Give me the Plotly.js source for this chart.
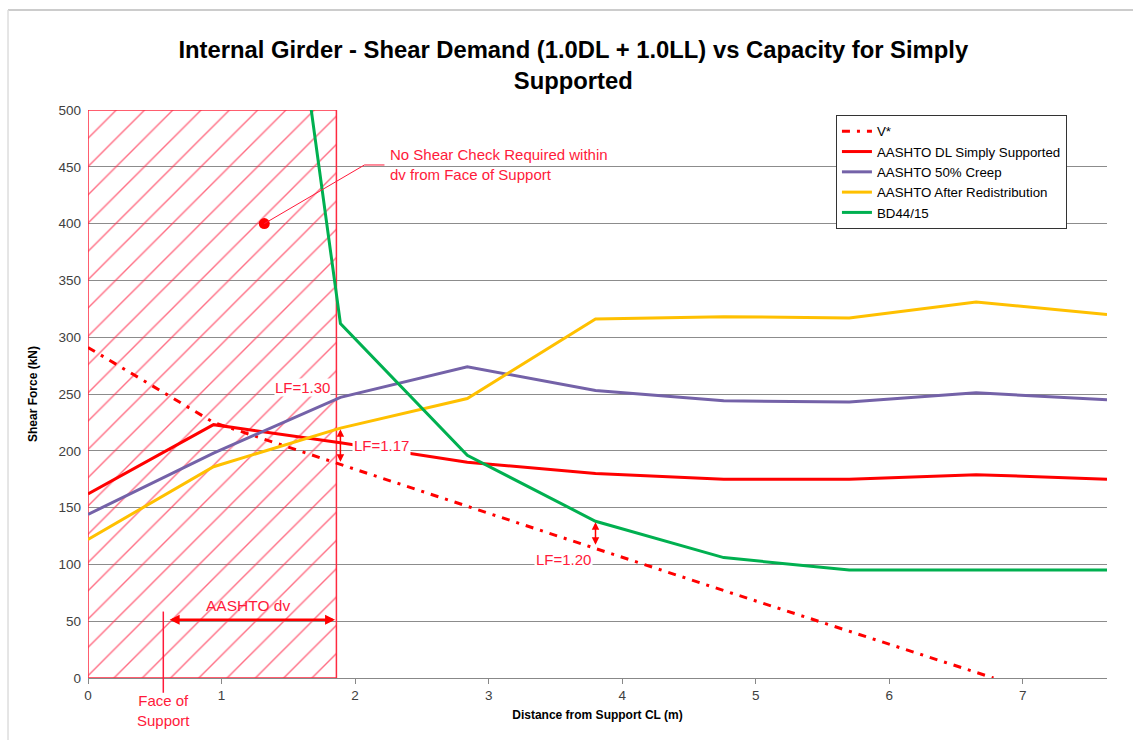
<!DOCTYPE html>
<html>
<head>
<meta charset="utf-8">
<script src="https://cdn.plot.ly/plotly-3.0.1.min.js"></script>
<style>html,body{margin:0;padding:0;background:#fff;}#chart{width:1133px;height:740px;}</style>
</head>
<body>
<div id="chart"></div>
<script>
// ---- data ----
var distance = [0, 0.94, 1.89, 2.84, 3.8, 4.76, 5.7, 6.65, 7.63];
var aashtoDL = [162, 223, 207, 190, 180, 175, 175, 179, 175];
var aashtoCreep = [144, 198, 247, 274, 253, 244, 243, 251, 245];
var aashtoRedist = [122, 186, 220, 246, 316, 318, 317, 331, 320];
var bd4415 = [null, 1130, 312, 196, 138, 106, 95, 95, 95];
var vStarX = [0, 0.94, 1.89, 2.84, 3.8, 4.76, 5.7, 6.65, 6.78];
var vStarY = [291, 225, 188, 151, 114, 77, 41, 5, 0];
var zoneX = [0, 0, 1.86, 1.86, 0];      // dv zone from face of support
var zoneY = [0, 500, 500, 0, 0];
var calloutX = [1.32];
var calloutY = [400];
var seriesNames = ['V*', 'AASHTO DL Simply Supported', 'AASHTO 50% Creep', 'AASHTO After Redistribution', 'BD44/15'];
var yTicks = [0, 50, 100, 150, 200, 250, 300, 350, 400, 450, 500];
var xTicks = [0, 1, 2, 3, 4, 5, 6, 7];

var RED = '#ff0000';
var FONT = 'Liberation Sans, Arial, sans-serif';

var traces = [
  {x: zoneX, y: zoneY, type: 'scatter', mode: 'lines', fill: 'toself',
   fillcolor: 'rgba(0,0,0,0)',
   fillpattern: {shape: '/', size: 20, solidity: 0.07, fgcolor: '#ff3050', fgopacity: 0.7, bgcolor: 'rgba(0,0,0,0)'},
   line: {color: '#ff2a40', width: 1.5}, showlegend: false, hoverinfo: 'skip'},
  {x: vStarX, y: vStarY, name: seriesNames[0], type: 'scatter', mode: 'lines',
   line: {color: RED, width: 3, dash: '8px,7px,3px,7px'}},
  {x: distance, y: aashtoDL, name: seriesNames[1], type: 'scatter', mode: 'lines',
   line: {color: RED, width: 3}},
  {x: distance, y: aashtoCreep, name: seriesNames[2], type: 'scatter', mode: 'lines',
   line: {color: '#7462a8', width: 3}},
  {x: distance, y: aashtoRedist, name: seriesNames[3], type: 'scatter', mode: 'lines',
   line: {color: '#ffc000', width: 3}},
  {x: distance, y: bd4415, name: seriesNames[4], type: 'scatter', mode: 'lines',
   line: {color: '#00b050', width: 3}},
  {x: calloutX, y: calloutY, type: 'scatter', mode: 'markers',
   marker: {color: RED, size: 11}, showlegend: false, hoverinfo: 'skip'}
];

var annFont = {family: FONT, size: 15, color: '#ff1a3a'};
var layout = {
  width: 1133, height: 740,
  margin: {l: 88, r: 26, t: 110, b: 62},
  paper_bgcolor: '#fff', plot_bgcolor: '#fff',
  showlegend: true,
  title: {
    text: '<b>Internal Girder - Shear Demand (1.0DL + 1.0LL) vs Capacity for Simply<br>Supported</b>',
    font: {family: FONT, size: 23.8, color: '#000'},
    x: 0.506, xref: 'container', xanchor: 'center',
    y: 0.922, yref: 'container', yanchor: 'middle'
  },
  xaxis: {
    range: [0, 7.63], tickvals: xTicks, showgrid: false, zeroline: false,
    showline: true, linecolor: '#888', linewidth: 1,
    ticks: 'outside', ticklen: 5, tickcolor: '#888',
    tickfont: {family: FONT, size: 13.5, color: '#404040'},
    title: {text: '<b>Distance from Support CL (m)</b>', font: {family: FONT, size: 12, color: '#000'}, standoff: 8}
  },
  yaxis: {
    range: [0, 500], tickvals: yTicks, showgrid: true, gridcolor: '#8c8c8c', gridwidth: 1,
    zeroline: false, showline: false, ticks: '', ticklabelstandoff: 6,
    tickfont: {family: FONT, size: 13.5, color: '#404040'},
    title: {text: '<b>Shear Force (kN)</b>', font: {family: FONT, size: 12, color: '#000'}, standoff: 18}
  },
  legend: {
    x: 0.734, y: 0.991, xanchor: 'left', yanchor: 'top',
    bgcolor: '#fff', bordercolor: '#333', borderwidth: 1,
    font: {family: FONT, size: 13.3, color: '#000'},
    tracegroupgap: 0
  },
  shapes: [
    {type: 'path', xref: 'x', yref: 'y', path: 'M1.32,400 L2.07,451.6 L2.22,451.6',
     line: {color: '#ff1a3a', width: 1}},
    {type: 'line', xref: 'paper', yref: 'paper', x0: 0.0739, x1: 0.0739, y0: -0.026, y1: 0.117,
     line: {color: '#ff1a3a', width: 1.5}},
    {type: 'line', xref: 'paper', yref: 'paper', x0: -0.0785, x1: 1.03, y0: 1.176, y1: 1.176,
     line: {color: '#bbb', width: 1.5}},
    {type: 'line', xref: 'paper', yref: 'paper', x0: -0.0785, x1: -0.0785, y0: -0.11, y1: 1.176,
     line: {color: '#ddd', width: 1.5}}
  ],
  annotations: [
    {xref: 'x', yref: 'y', x: 2.245, y: 451.6, xanchor: 'left', yanchor: 'middle', align: 'left',
     text: 'No Shear Check Required within<br>dv from Face of Support', showarrow: false, font: annFont},
    {xref: 'x', yref: 'y', x: 1.606, y: 255.4, text: 'LF=1.30', showarrow: false, font: annFont,
     bgcolor: '#fff', borderpad: 0},
    {xref: 'x', yref: 'y', x: 2.2, y: 204.4, text: 'LF=1.17', showarrow: false, font: annFont,
     bgcolor: '#fff', borderpad: 1},
    {xref: 'x', yref: 'y', x: 3.56, y: 104, text: 'LF=1.20', showarrow: false, font: annFont,
     bgcolor: '#fff', borderpad: 1},
    {xref: 'x', yref: 'y', x: 1.2, y: 64, text: 'AASHTO dv', showarrow: false,
     font: {family: FONT, size: 15.5, color: '#ff1a3a'}},
    {xref: 'paper', yref: 'paper', x: 0.0739, y: -0.058, xanchor: 'center', yanchor: 'middle',
     text: 'Face of<br>Support', showarrow: false, font: {family: FONT, size: 15, color: '#ff1a3a'}},
    {xref: 'x', yref: 'y', axref: 'x', ayref: 'y', x: 1.89, y: 219, ax: 1.89, ay: 189, text: '',
     showarrow: true, arrowside: 'end+start', arrowhead: 2, startarrowhead: 2, arrowsize: 1, startarrowsize: 1,
     arrowwidth: 1.5, arrowcolor: RED},
    {xref: 'x', yref: 'y', axref: 'x', ayref: 'y', x: 3.8, y: 137, ax: 3.8, ay: 116, text: '',
     showarrow: true, arrowside: 'end+start', arrowhead: 2, startarrowhead: 2, arrowsize: 1, startarrowsize: 1,
     arrowwidth: 1.5, arrowcolor: RED},
    {xref: 'x', yref: 'y', axref: 'x', ayref: 'y', x: 1.85, y: 51.3, ax: 0.6, ay: 51.3, text: '',
     showarrow: true, arrowside: 'end+start', arrowhead: 2, startarrowhead: 2, arrowsize: 0.8, startarrowsize: 0.8,
     arrowwidth: 2.5, arrowcolor: RED}
  ]
};

Plotly.newPlot('chart', traces, layout, {displayModeBar: false, staticPlot: true});
</script>
</body>
</html>
